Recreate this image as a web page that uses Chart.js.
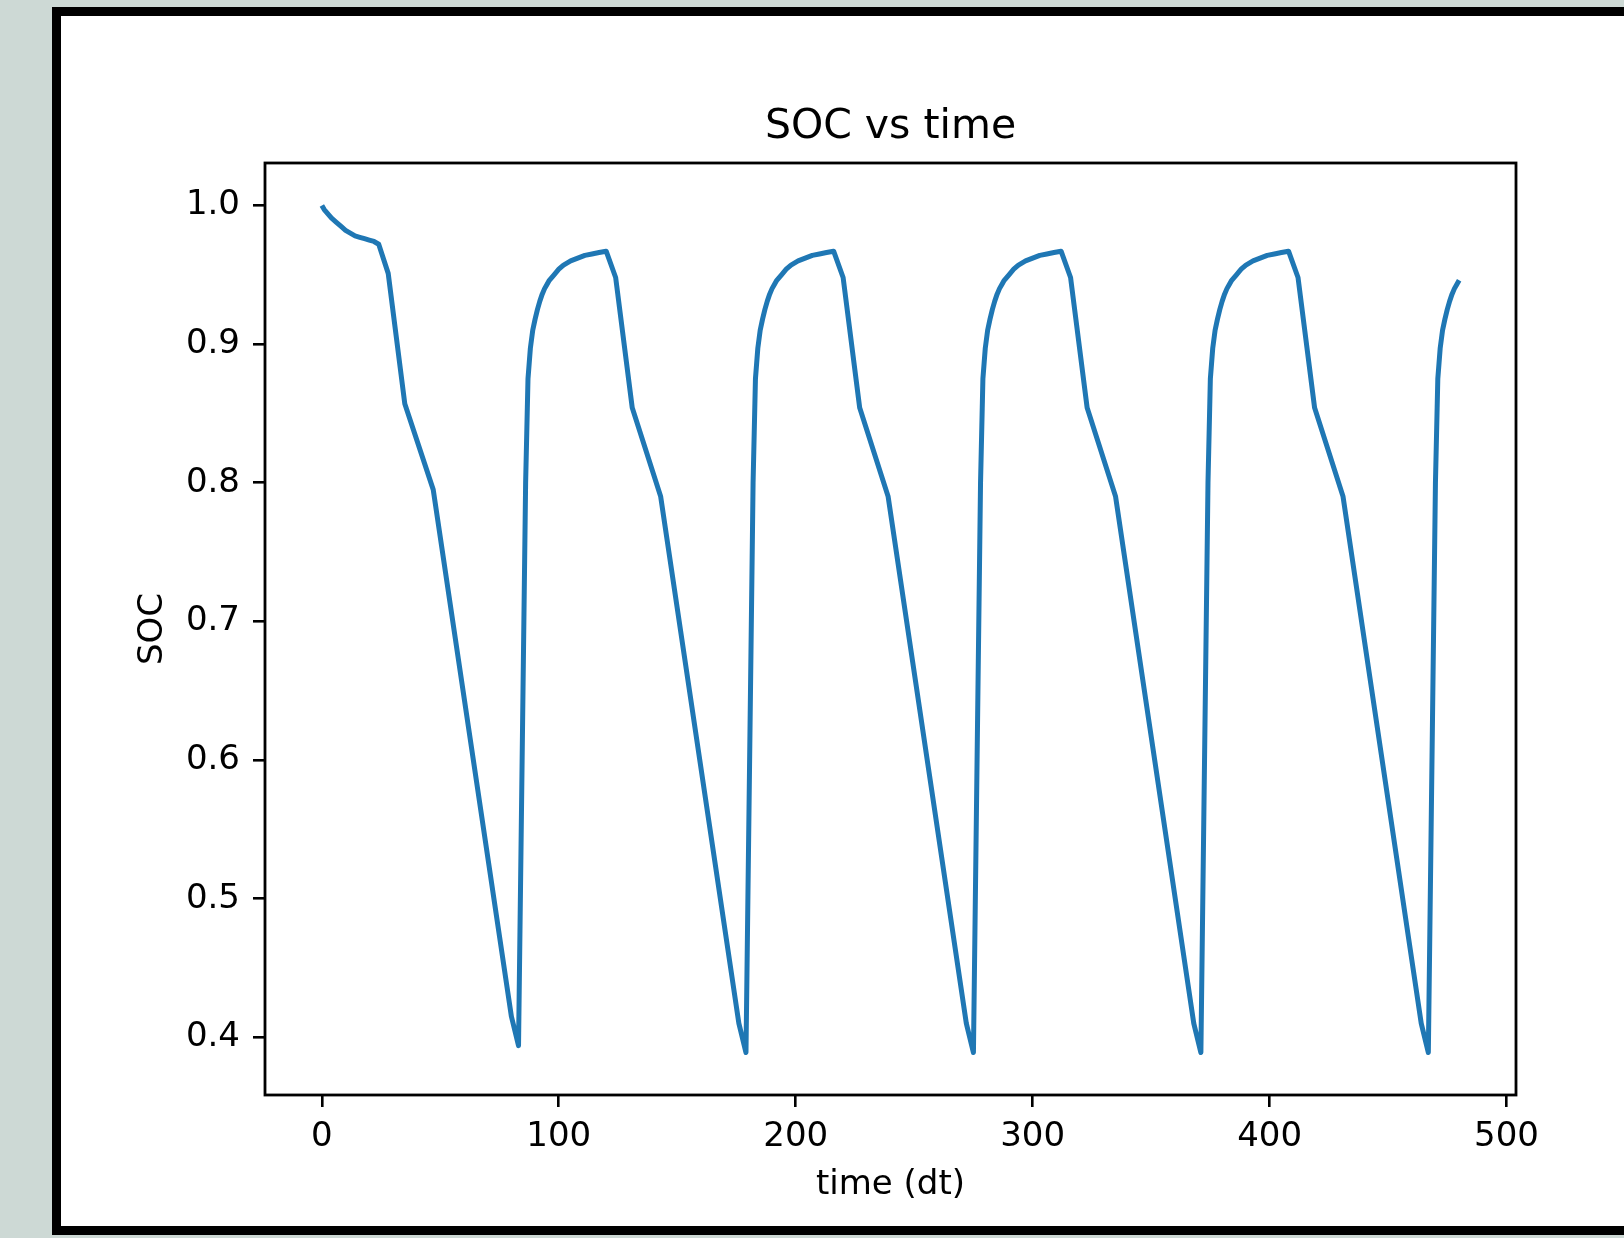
<!DOCTYPE html>
<html>
<head>
<meta charset="utf-8">
<script src="https://cdn.jsdelivr.net/npm/chart.js@4.4.1/dist/chart.umd.min.js"></script>
<style>
  html, body { margin: 0; padding: 0; width: 1624px; height: 1238px; overflow: hidden; background: #cdd9d5; }
  #frame { position: absolute; left: 52px; top: 7px; width: 1640px; height: 1228px; box-sizing: border-box;
           border: 9px solid #000; background: #fff; }
  #c { position: absolute; left: 0; top: 0; }
</style>
</head>
<body>
<div id="frame"></div>
<canvas id="c" width="1624" height="1238"></canvas>
<script>
// ---- data ----
const chartTitle = 'SOC vs time';
const xLabel = 'time (dt)';
const yLabel = 'SOC';

const timeDt = [
  0, 1, 2, 3, 4, 6, 8, 10, 12, 14, 16, 18, 20, 22, 24,
  28, 35, 47, 80, 83,
  86, 87, 88, 89, 90, 91, 92, 93, 94, 95, 96, 98, 100, 102, 105, 108, 111, 114, 117, 120,
  124, 131, 143, 176, 179,
  182, 183, 184, 185, 186, 187, 188, 189, 190, 191, 192, 194, 196, 198, 201, 204, 207, 210, 213, 216,
  220, 227, 239, 272, 275,
  278, 279, 280, 281, 282, 283, 284, 285, 286, 287, 288, 290, 292, 294, 297, 300, 303, 306, 309, 312,
  316, 323, 335, 368, 371,
  374, 375, 376, 377, 378, 379, 380, 381, 382, 383, 384, 386, 388, 390, 393, 396, 399, 402, 405, 408,
  412, 419, 431, 464, 467,
  470, 471, 472, 473, 474, 475, 476, 477, 478, 479, 480
];

const soc = [
  1.000, 0.997, 0.995, 0.993, 0.991, 0.988, 0.985, 0.982, 0.980, 0.978, 0.977, 0.976, 0.975, 0.974, 0.972,
  0.951, 0.857, 0.795, 0.415, 0.394,
  0.800, 0.875, 0.897, 0.910, 0.918, 0.925, 0.931, 0.936, 0.940, 0.943, 0.946, 0.950, 0.954, 0.957, 0.960, 0.962, 0.964, 0.965, 0.966, 0.967,
  0.948, 0.854, 0.790, 0.410, 0.389,
  0.800, 0.875, 0.897, 0.910, 0.918, 0.925, 0.931, 0.936, 0.940, 0.943, 0.946, 0.950, 0.954, 0.957, 0.960, 0.962, 0.964, 0.965, 0.966, 0.967,
  0.948, 0.854, 0.790, 0.410, 0.389,
  0.800, 0.875, 0.897, 0.910, 0.918, 0.925, 0.931, 0.936, 0.940, 0.943, 0.946, 0.950, 0.954, 0.957, 0.960, 0.962, 0.964, 0.965, 0.966, 0.967,
  0.948, 0.854, 0.790, 0.410, 0.389,
  0.800, 0.875, 0.897, 0.910, 0.918, 0.925, 0.931, 0.936, 0.940, 0.943, 0.946, 0.950, 0.954, 0.957, 0.960, 0.962, 0.964, 0.965, 0.966, 0.967,
  0.948, 0.854, 0.790, 0.410, 0.389,
  0.800, 0.875, 0.897, 0.910, 0.918, 0.925, 0.931, 0.936, 0.940, 0.943, 0.946
];

const xTicks = [0, 100, 200, 300, 400, 500];
const yTicks = [0.4, 0.5, 0.6, 0.7, 0.8, 0.9, 1.0];
const xRange = [-24, 504];
const yRange = [0.3584, 1.0306];

// ---- chart ----
const FONT = 'DejaVu Sans';
const spinePlugin = {
  id: 'spines',
  afterDatasetsDraw(chart) {
    const {ctx, chartArea: a} = chart;
    ctx.save();
    ctx.strokeStyle = '#000';
    ctx.lineWidth = 2.8;
    ctx.strokeRect(a.left, a.top, a.right - a.left, a.bottom - a.top);
    ctx.restore();
  }
};

new Chart(document.getElementById('c'), {
  type: 'scatter',
  data: {
    datasets: [{
      data: timeDt.map((t, i) => ({x: t, y: soc[i]})),
      showLine: true,
      borderColor: '#1f77b4',
      borderWidth: 5,
      borderJoinStyle: 'round',
      pointRadius: 0,
      pointHoverRadius: 0,
      tension: 0,
      fill: false,
      xAxisID: 'x',
      yAxisID: 'y'
    }]
  },
  options: {
    responsive: false,
    devicePixelRatio: 1,
    animation: false,
    layout: { padding: { left: 0, right: 108, top: 0, bottom: 0 } },
    plugins: { legend: { display: false }, tooltip: { enabled: false }, title: { display: false } },
    scales: {
      x: {
        type: 'linear', position: 'bottom', min: xRange[0], max: xRange[1],
        afterBuildTicks: s => { s.ticks = xTicks.map(v => ({value: v})); },
        afterFit: s => { s.height = 143; },
        grid: { display: true, drawOnChartArea: false, drawTicks: true, tickLength: 12, tickColor: '#000', tickWidth: 2.6, lineWidth: 2.6, color: '#000' },
        border: { display: false },
        ticks: { color: '#000', font: { family: FONT, size: 34 }, padding: 10, maxRotation: 0, autoSkip: false,
                 callback: v => String(v) },
        title: { display: true, text: xLabel, color: '#000', font: { family: FONT, size: 34 }, padding: { top: 0, bottom: 32.6 } }
      },
      x2: {
        type: 'linear', position: 'top', min: xRange[0], max: xRange[1],
        afterFit: s => { s.height = 163; },
        grid: { display: false }, border: { display: false },
        ticks: { display: false },
        title: { display: true, text: chartTitle, color: '#000', font: { family: FONT, size: 41 }, padding: { top: 103, bottom: 0 } }
      },
      y: {
        type: 'linear', position: 'left', min: yRange[0], max: yRange[1],
        afterBuildTicks: s => { s.ticks = yTicks.map(v => ({value: v})); },
        afterFit: s => { s.width = 265; },
        grid: { display: true, drawOnChartArea: false, drawTicks: true, tickLength: 12, tickColor: '#000', tickWidth: 2.6, lineWidth: 2.6, color: '#000' },
        border: { display: false },
        ticks: { color: '#000', font: { family: FONT, size: 34 }, padding: 13, autoSkip: false,
                 callback: v => v.toFixed(1) },
        title: { display: true, text: yLabel, color: '#000', font: { family: FONT, size: 34 }, padding: { top: 132.6, bottom: 0 } }
      }
    }
  },
  plugins: [spinePlugin]
});
</script>
</body>
</html>
